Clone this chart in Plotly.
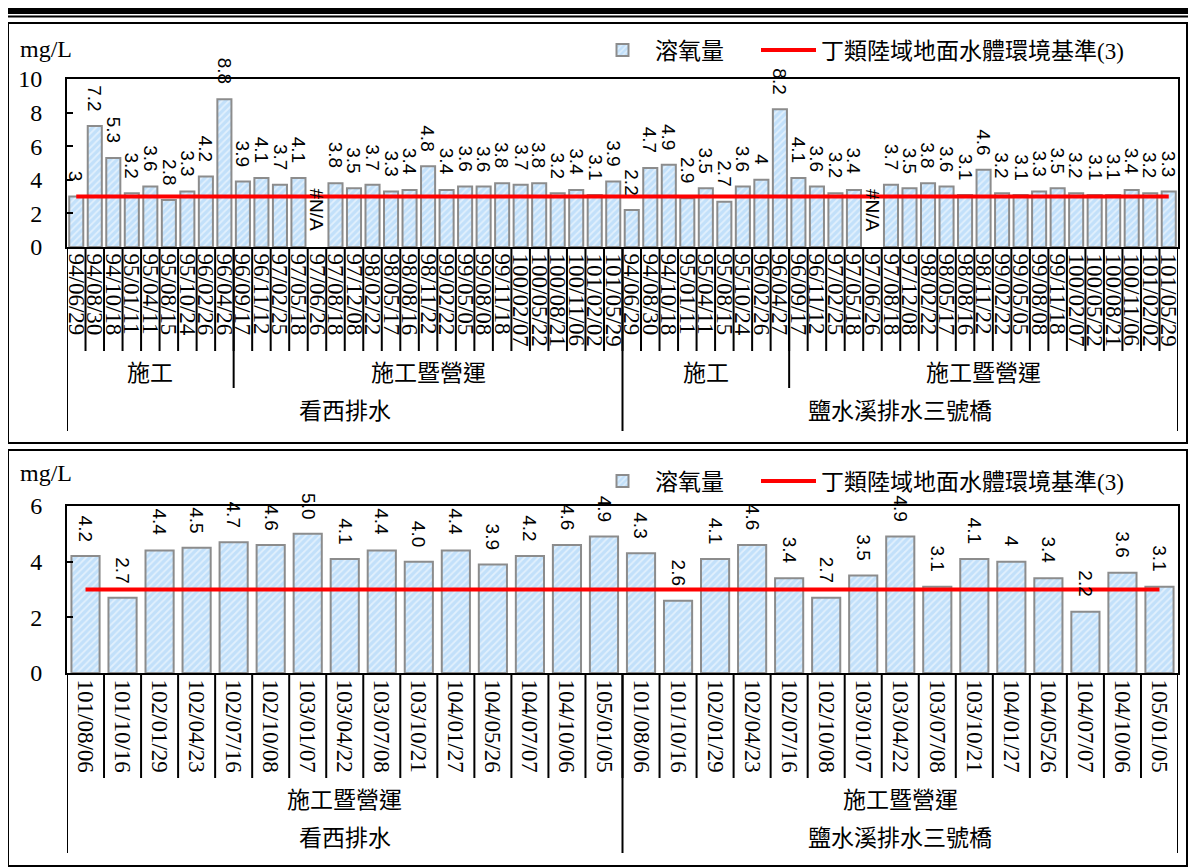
import plotly.graph_objects as go

W, H = 1196, 868
OFF = 8  # page body margin of the html page

# ---- top panel data (94~101) ----
top_groups = ["看西排水", "鹽水溪排水三號橋"]
top_phases = ["施工", "施工暨營運"]
kx_dates_build = ["94/06/29", "94/08/30", "94/10/18", "95/01/11", "95/04/11",
                  "95/08/15", "95/10/24", "96/02/26", "96/04/26"]
ys_dates_build = ["94/06/29", "94/08/30", "94/10/18", "95/01/11", "95/04/11",
                  "95/08/15", "95/10/24", "96/02/26", "96/04/27"]
dates_op = ["96/09/17", "96/11/12", "97/02/25", "97/05/18", "97/06/26", "97/08/18",
            "97/12/08", "98/02/22", "98/05/17", "98/08/16", "98/11/22", "99/02/22",
            "99/05/05", "99/08/08", "99/11/18", "100/02/07", "100/05/22", "100/08/21",
            "100/11/06", "101/02/02", "101/05/29"]

kx_build = [3, 7.2, 5.3, 3.2, 3.6, 2.8, 3.3, 4.2, 8.8]
kx_op = [3.9, 4.1, 3.7, 4.1, None, 3.8, 3.5, 3.7, 3.3, 3.4, 4.8, 3.4, 3.6, 3.6,
         3.8, 3.7, 3.8, 3.2, 3.4, 3.1, 3.9]
ys_build = [2.2, 4.7, 4.9, 2.9, 3.5, 2.7, 3.6, 4, 8.2]
ys_op = [4.1, 3.6, 3.2, 3.4, None, 3.7, 3.5, 3.8, 3.6, 3.1, 4.6, 3.2, 3.1, 3.3,
         3.5, 3.2, 3.1, 3.1, 3.4, 3.2, 3.3]

# ---- bottom panel data (101~105) ----
bot_phase = "施工暨營運"
bot_dates = ["101/08/06", "101/10/16", "102/01/29", "102/04/23", "102/07/16",
             "102/10/08", "103/01/07", "103/04/22", "103/07/08", "103/10/21",
             "104/01/27", "104/05/26", "104/07/07", "104/10/06", "105/01/05"]
bot_kx = [4.2, 2.7, 4.4, 4.5, 4.7, 4.6, 5.0, 4.1, 4.4, 4.0, 4.4, 3.9, 4.2, 4.6, 4.9]
bot_ys = [4.3, 2.6, 4.1, 4.6, 3.4, 2.7, 3.5, 4.9, 3.1, 4.1, 4, 3.4, 2.2, 3.6, 3.1]

standard = 3
bar_name = "溶氧量"
line_name = "丁類陸域地面水體環境基準(3)"

SERIF = "Liberation Serif, Noto Sans CJK TC"
SANS = "Liberation Sans, Arial"


def px(x):
    return (x - OFF) / W


def py(y):
    return 1 - (y - OFF) / H


top_dates = kx_dates_build + dates_op + ys_dates_build + dates_op
top_vals = kx_build + kx_op + ys_build + ys_op
top_fmt = ["{:g}"] * len(top_vals)
bot_all_dates = bot_dates + bot_dates
bot_vals = bot_kx + bot_ys
bot_fmt = ["{:.1f}"] * len(bot_kx) + ["{:g}"] * len(bot_ys)

bar_marker = dict(
    color="#cfe6fb",
    line=dict(color="#8c8c8c", width=2),
    pattern=dict(shape="/", fgcolor="#ffffff", bgcolor="#c2e0fa", size=5, solidity=0.35),
)

fig = go.Figure()

panels = [("x", "y", top_vals, "legend", "legend2"), ("x2", "y2", bot_vals, "legend3", "legend4")]
for xa, ya, vals, lg_bar, lg_line in panels:
    idx = list(range(len(vals)))
    fig.add_trace(go.Bar(
        x=idx, y=vals, name=bar_name, marker=bar_marker, width=0.76,
        xaxis=xa, yaxis=ya, legend=lg_bar,
    ))
    fig.add_trace(go.Scatter(
        x=idx, y=[standard] * len(vals), mode="lines", name=line_name,
        line=dict(color="#ff0000", width=4), xaxis=xa, yaxis=ya, legend=lg_line,
    ))

annotations = []
shapes = []

# data labels
for xr, yr, vals, fmts in [("x", "y", top_vals, top_fmt), ("x2", "y2", bot_vals, bot_fmt)]:
    for i, v in enumerate(vals):
        annotations.append(dict(
            x=i, y=0 if v is None else v, xref=xr, yref=yr,
            text="#N/A" if v is None else fmts[i].format(v),
            textangle=90, showarrow=False, yanchor="bottom", yshift=13,
            font=dict(family=SANS, size=19, color="black"),
        ))


def vline(xr, x, y0, y1):
    shapes.append(dict(type="line", xref=xr, yref="paper", x0=x, x1=x,
                       y0=py(y0), y1=py(y1), line=dict(color="black", width=2)))


def label(xr, x, y, text):
    annotations.append(dict(x=x, y=py(y), xref=xr, yref="paper", text=text, showarrow=False,
                            xanchor="center", yanchor="middle",
                            font=dict(family=SERIF, size=23, color="black")))


# multi-level category axis: dividers and labels
def category_levels(xr, n_per_group, phase_sizes, groups, phases, y_axis, y_tick, y_phase, y_group,
                    y_phase_txt, y_group_txt):
    total = n_per_group * len(groups)
    for i in range(total + 1):
        vline(xr, i - 0.5, y_axis, y_tick)
    start = 0
    for gname in groups:
        pstart = start
        for k, size in enumerate(phase_sizes):
            if k > 0:
                vline(xr, pstart - 0.5, y_axis, y_phase)
            label(xr, pstart + (size - 1) / 2, y_phase_txt, phases[k])
            pstart += size
        vline(xr, start - 0.5, y_axis, y_group)
        label(xr, start + (n_per_group - 1) / 2, y_group_txt, gname)
        start += n_per_group
    vline(xr, total - 0.5, y_axis, y_group)


category_levels("x", len(kx_build) + len(kx_op), [len(kx_build), len(kx_op)], top_groups, top_phases,
                247, 351, 388, 431, 373, 411)
category_levels("x2", len(bot_kx), [len(bot_kx)], top_groups, [bot_phase],
                673, 778, 778, 853, 800, 838)

# unit labels
for yy in [49, 473]:
    annotations.append(dict(x=px(18), y=py(yy), xref="paper", yref="paper", text="mg/L",
                            showarrow=False, xanchor="left", yanchor="middle",
                            font=dict(family=SERIF, size=24, color="black")))

# page frames
shapes.append(dict(type="rect", xref="paper", yref="paper", x0=px(5), x1=px(1191), y0=py(14), y1=py(6),
                   fillcolor="black", line=dict(width=0)))
shapes.append(dict(type="line", xref="paper", yref="paper", x0=px(5), x1=px(1191), y0=py(16.5), y1=py(16.5),
                   line=dict(color="black", width=2)))
shapes.append(dict(type="rect", xref="paper", yref="paper", x0=px(8), x1=px(1187), y0=py(443), y1=py(23),
                   line=dict(color="black", width=2)))
shapes.append(dict(type="rect", xref="paper", yref="paper", x0=px(8), x1=px(1187), y0=py(866), y1=py(450),
                   line=dict(color="black", width=2)))

x_common = dict(showgrid=False, zeroline=False, showline=True, mirror=True, linecolor="black",
                linewidth=2, ticks="", tickangle=90, automargin=False,
                tickfont=dict(family=SERIF, size=23, color="black"))
y_common = dict(showgrid=False, zeroline=False, showline=True, mirror=True, linecolor="black",
                linewidth=2, ticks="inside", ticklen=6, tickwidth=2, tickcolor="black", dtick=2,
                ticklabelstandoff=18, automargin=False,
                tickfont=dict(family=SERIF, size=24, color="black"))

legend_common = dict(orientation="h", xanchor="left", yanchor="middle", bgcolor="rgba(0,0,0,0)",
                     font=dict(family=SERIF, size=23, color="black"), itemwidth=55)

fig.update_layout(
    width=W, height=H, margin=dict(l=0, r=0, t=0, b=0, pad=0, autoexpand=False),
    paper_bgcolor="white", plot_bgcolor="white", bargap=0.24,
    xaxis=dict(x_common, domain=[px(67), px(1178)], range=[-0.5, len(top_vals) - 0.5],
               tickvals=list(range(len(top_dates))), ticktext=top_dates, anchor="y"),
    yaxis=dict(y_common, domain=[py(247), py(79)], range=[0, 10], anchor="x"),
    xaxis2=dict(x_common, domain=[px(67), px(1178)], range=[-0.5, len(bot_vals) - 0.5],
                tickvals=list(range(len(bot_all_dates))), ticktext=bot_all_dates, anchor="y2"),
    yaxis2=dict(y_common, domain=[py(673), py(506)], range=[0, 6], anchor="x2"),
    legend=dict(legend_common, x=px(590), y=py(50)),
    legend2=dict(legend_common, x=px(756), y=py(50)),
    legend3=dict(legend_common, x=px(590), y=py(481)),
    legend4=dict(legend_common, x=px(756), y=py(481)),
    annotations=annotations,
    shapes=shapes,
    showlegend=True,
)

fig.write_html("out.html")
